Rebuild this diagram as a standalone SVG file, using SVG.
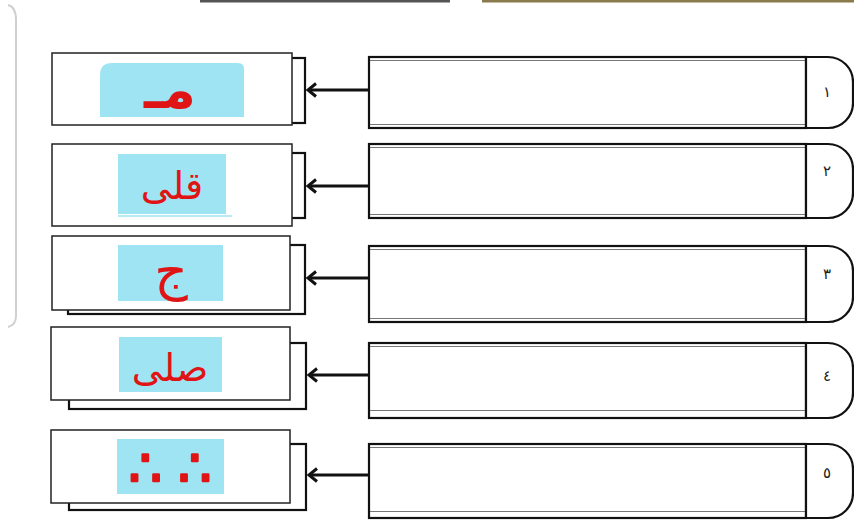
<svg xmlns="http://www.w3.org/2000/svg" width="854" height="520" viewBox="0 0 854 520">
<defs>
<style>
.bg{fill:#ffffff}
.front{fill:#ffffff;stroke:#222;stroke-width:1.5}
.back{fill:#ffffff;stroke:#111;stroke-width:2.2}
.blue{fill:#9fe4f3}
.ltr{font-family:"DejaVu Sans","Noto Sans",sans-serif;font-size:40px;fill:#e01414;text-anchor:middle}
.box{fill:#ffffff;stroke:#111;stroke-width:2.2}
.inner{stroke:#777;stroke-width:1;fill:none}
.cap{fill:#ffffff;stroke:#111;stroke-width:2.2}
.num{font-family:"DejaVu Sans",sans-serif;font-size:15px;fill:#222;text-anchor:middle}
.arr{stroke:#111;stroke-width:3;fill:none}
</style>
<marker id="ah" markerWidth="14" markerHeight="16" refX="11" refY="8" orient="auto" markerUnits="userSpaceOnUse">
<path d="M3,1.5 L11,8 L3,14.5" fill="none" stroke="#111" stroke-width="3"/>
</marker>
</defs>
<rect class="bg" width="854" height="520"/>
<line x1="200" y1="1" x2="450" y2="1" stroke="#555" stroke-width="3"/>
<line x1="482" y1="1" x2="854" y2="1" stroke="#8a7b4c" stroke-width="3"/>
<path d="M8,5 Q16,7 16,20 V316 Q16,325 8,327" fill="none" stroke="#d0d0d0" stroke-width="2"/>

<g id="left1">
<rect class="back" x="70" y="58" width="235" height="65"/>
<rect class="front" x="52" y="53" width="240" height="72"/>
<path class="blue" d="M112,63 H238 Q244,63 244,69 V117 H100 V75 Q100,63 112,63 Z"/>
<text class="ltr" x="170" y="108" style="font-size:54px;font-weight:bold">مـ</text>
</g>
<g id="left2">
<rect class="back" x="70" y="153" width="235" height="65"/>
<rect class="front" x="52" y="144" width="240" height="82"/>
<rect class="blue" x="118" y="154" width="108" height="60"/>
<line x1="118" y1="216" x2="232" y2="216" stroke="#9fe4f3" stroke-width="1.5"/>
<text class="ltr" x="172" y="199" style="font-size:38px">قلى</text>
</g>
<g id="left3">
<rect class="back" x="68" y="245" width="237" height="69"/>
<rect class="front" x="52" y="236" width="238" height="74"/>
<rect class="blue" x="118" y="245" width="105" height="56"/>
<text class="ltr" x="171" y="289" style="font-size:52px">ج</text>
</g>
<g id="left4">
<rect class="back" x="69" y="343" width="237" height="66"/>
<rect class="front" x="51" y="327" width="239" height="73"/>
<rect class="blue" x="119" y="337" width="103" height="55"/>
<text class="ltr" x="170" y="381" style="font-size:38px">صلى</text>
</g>
<g id="left5">
<rect class="back" x="69" y="444" width="237" height="66"/>
<rect class="front" x="51" y="430" width="239" height="73"/>
<rect class="blue" x="117" y="439" width="107" height="55"/>
<text class="ltr" x="170" y="486" style="font-size:52px;stroke:#e01414;stroke-width:2.5;stroke-linejoin:round">∴ ∴</text>
</g>

<g id="right1">
<rect class="box" x="369" y="57" width="437" height="71"/>
<line class="inner" x1="370" y1="60.5" x2="805" y2="60.5"/>
<line class="inner" x1="370" y1="124.5" x2="805" y2="124.5"/>
<path class="cap" d="M806,57 H828 A25,25 0 0 1 853,82 V103 A25,25 0 0 1 828,128 H806 Z"/>
<text class="num" x="827" y="97">١</text>
</g>
<g id="right2">
<rect class="box" x="369" y="144" width="437" height="74"/>
<line class="inner" x1="370" y1="147.5" x2="805" y2="147.5"/>
<line class="inner" x1="370" y1="214.5" x2="805" y2="214.5"/>
<path class="cap" d="M806,144 H828 A25,25 0 0 1 853,169 V193 A25,25 0 0 1 828,218 H806 Z"/>
<text class="num" x="827" y="176">٢</text>
</g>
<g id="right3">
<rect class="box" x="369" y="246" width="437" height="76"/>
<line class="inner" x1="370" y1="249.5" x2="805" y2="249.5"/>
<line class="inner" x1="370" y1="318.5" x2="805" y2="318.5"/>
<path class="cap" d="M806,246 H828 A25,25 0 0 1 853,271 V297 A25,25 0 0 1 828,322 H806 Z"/>
<text class="num" x="827" y="279">٣</text>
</g>
<g id="right4">
<rect class="box" x="369" y="343" width="437" height="75"/>
<line class="inner" x1="370" y1="346.5" x2="805" y2="346.5"/>
<line class="inner" x1="370" y1="410.5" x2="805" y2="410.5"/>
<path class="cap" d="M806,343 H828 A25,25 0 0 1 853,368 V393 A25,25 0 0 1 828,418 H806 Z"/>
<text class="num" x="827" y="381">٤</text>
</g>
<g id="right5">
<rect class="box" x="369" y="444" width="437" height="74"/>
<line class="inner" x1="370" y1="447.5" x2="805" y2="447.5"/>
<line class="inner" x1="370" y1="511.5" x2="805" y2="511.5"/>
<path class="cap" d="M806,444 H828 A25,25 0 0 1 853,469 V493 A25,25 0 0 1 828,518 H806 Z"/>
<text class="num" x="827" y="478">٥</text>
</g>

<g id="connectors">
<line class="arr" x1="369" y1="90" x2="308" y2="90" marker-end="url(#ah)"/>
<line class="arr" x1="369" y1="186" x2="308" y2="186" marker-end="url(#ah)"/>
<line class="arr" x1="369" y1="278" x2="308" y2="278" marker-end="url(#ah)"/>
<line class="arr" x1="369" y1="375" x2="309" y2="375" marker-end="url(#ah)"/>
<line class="arr" x1="369" y1="475" x2="309" y2="475" marker-end="url(#ah)"/>
</g>
</svg>
